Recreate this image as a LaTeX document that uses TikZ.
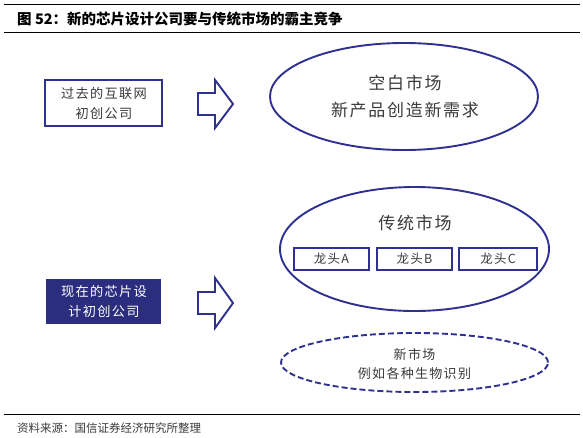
\documentclass[tikz,border=0pt]{standalone}
\usepackage{fontspec}
\setmainfont{Noto Sans CJK SC}
\newfontfamily\cjk{Noto Sans CJK SC}
\newfontfamily\cjkwide[LetterSpace=10]{Noto Sans CJK SC}
\usetikzlibrary{shapes.geometric}
\definecolor{navy}{HTML}{2E3190}
\definecolor{boxfill}{HTML}{2B2E7E}
\definecolor{txt}{HTML}{3A3A3A}
\tikzset{
  frame/.style={draw=navy, line width=1.7pt, fill=white},
  ell/.style={ellipse, draw=navy, line width=1.9pt},
  blockarrow/.style={draw=navy, line width=1.9pt, fill=white, line join=miter},
  lead/.style={draw=navy, line width=1.6pt, minimum width=75pt, minimum height=22pt, inner sep=0pt, text=txt, font=\cjkwide\fontsize{12.5}{14}\selectfont},
  rulel/.style={line width=1pt, black}
}
\begin{document}
\begin{tikzpicture}[x=1pt,y=-1pt]
\useasboundingbox (0,0) rectangle (583,437);
% header
\draw[rulel] (4,4) -- (580,4);
\draw[rulel] (4,32.5) -- (580,32.5);
\node[anchor=west, inner sep=0pt, font=\cjk\fontsize{14.5}{16}\selectfont\bfseries] (title) at (17,18.5) {图 52：新的芯片设计公司要与传统市场的霸主竞争};
% footer
\draw[rulel] (4,414) -- (580,414);
\node[anchor=west, inner sep=0pt, text=txt, font=\cjk\fontsize{11.5}{13}\selectfont] (src) at (17,428) {资料来源：国信证券经济研究所整理};

% left boxes
\draw[frame] (45,80) rectangle (162,126);
\node[align=center, text=txt, font=\cjkwide\fontsize{13.2}{20}\selectfont] (past) at (104,103) {过去的互联网\\初创公司};
\fill[boxfill] (46,279) rectangle (161,324);
\node[align=center, text=white, font=\cjkwide\fontsize{13.2}{20}\selectfont] (now) at (104,301.5) {现在的芯片设\\计初创公司};

% block arrows
\draw[blockarrow] (198,93) -- (215,93) -- (215,80) -- (233,104) -- (215,128) -- (215,115) -- (198,115) -- cycle;
\draw[blockarrow] (198,292) -- (215,292) -- (215,278) -- (233,303) -- (215,328) -- (215,314) -- (198,314) -- cycle;

% ellipse 1
\node[ell, minimum width=268pt, minimum height=107pt] (e1) at (404,96.5) {};
\node[align=center, text=txt, font=\cjkwide\fontsize{17}{27}\selectfont] (e1t) at (405,96.5) {空白市场\\新产品创造新需求};

% ellipse 2
\node[ell, minimum width=269pt, minimum height=124pt] (e2) at (414.5,249) {};
\node[text=txt, font=\cjkwide\fontsize{17}{18}\selectfont] (e2t) at (415,223) {传统市场};
\node[lead] (la) at (331.5,259) {龙头A};
\node[lead, minimum width=75pt] (lb) at (414.5,259) {龙头B};
\node[lead, minimum width=78pt] (lc) at (498,259) {龙头C};

% dashed ellipse
\node[ell, dashed, dash pattern=on 6pt off 3pt, minimum width=267pt, minimum height=59pt] (e3) at (414.5,362.5) {};
\node[align=center, text=txt, font=\cjkwide\fontsize{13}{19}\selectfont] (e3t) at (414.5,364) {新市场\\例如各种生物识别};
\end{tikzpicture}
\end{document}
